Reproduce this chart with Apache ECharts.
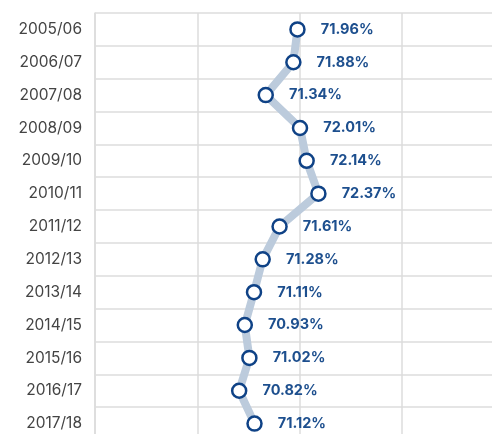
<!DOCTYPE html>
<html>
<head>
<meta charset="utf-8">
<script src="https://cdn.jsdelivr.net/npm/echarts@6/dist/echarts.min.js"></script>
<style>
  html, body { margin: 0; padding: 0; background: #fff; }
  #main { width: 492px; height: 434px; }
</style>
</head>
<body>
<div id="main"></div>
<script>
// seasons, top to bottom
const seasons = ['2005/06', '2006/07', '2007/08', '2008/09', '2009/10', '2010/11', '2011/12',
    '2012/13', '2013/14', '2014/15', '2015/16', '2016/17', '2017/18'];
const shares = [71.96, 71.88, 71.34, 72.01, 72.14, 72.37, 71.61, 71.28, 71.11, 70.93, 71.02, 70.82, 71.12];

var myChart = echarts.init(document.getElementById('main'));

var option = {
    animation: false,
    grid: {
        left: 95,
        top: 13,
        width: 409,
        height: 427,
        containLabel: false,
        outerBoundsMode: 'none'
    },
    xAxis: {
        type: 'value',
        min: 68,
        max: 76,
        interval: 2,
        axisLine: {show: false},
        axisTick: {show: false},
        axisLabel: {show: false},
        splitLine: {lineStyle: {color: '#dddddd', width: 1.5}}
    },
    yAxis: {
        type: 'category',
        data: seasons,
        inverse: true,
        axisLine: {show: true, lineStyle: {color: '#dddddd', width: 1.5}},
        axisTick: {show: false},
        axisLabel: {
            color: '#444444',
            fontFamily: 'Inter',
            fontSize: 15.5,
            margin: 13
        },
        splitLine: {show: true, interval: 0, lineStyle: {color: '#dddddd', width: 1.5}}
    },
    series: [
        {
            type: 'line',
            data: shares,
            symbol: 'circle',
            symbolSize: 14,
            lineStyle: {color: '#bccbdc', width: 8},
            itemStyle: {color: '#ffffff', borderColor: '#0f4286', borderWidth: 2.5},
            label: {
                show: true,
                position: 'right',
                distance: 15,
                color: '#1d4f8e',
                fontFamily: 'Inter',
                fontWeight: 'bold',
                fontSize: 14.5,
                formatter: function (p) {
                    return p.value.toFixed(2) + '%';
                }
            }
        }
    ]
};

myChart.setOption(option);
</script>
</body>
</html>
